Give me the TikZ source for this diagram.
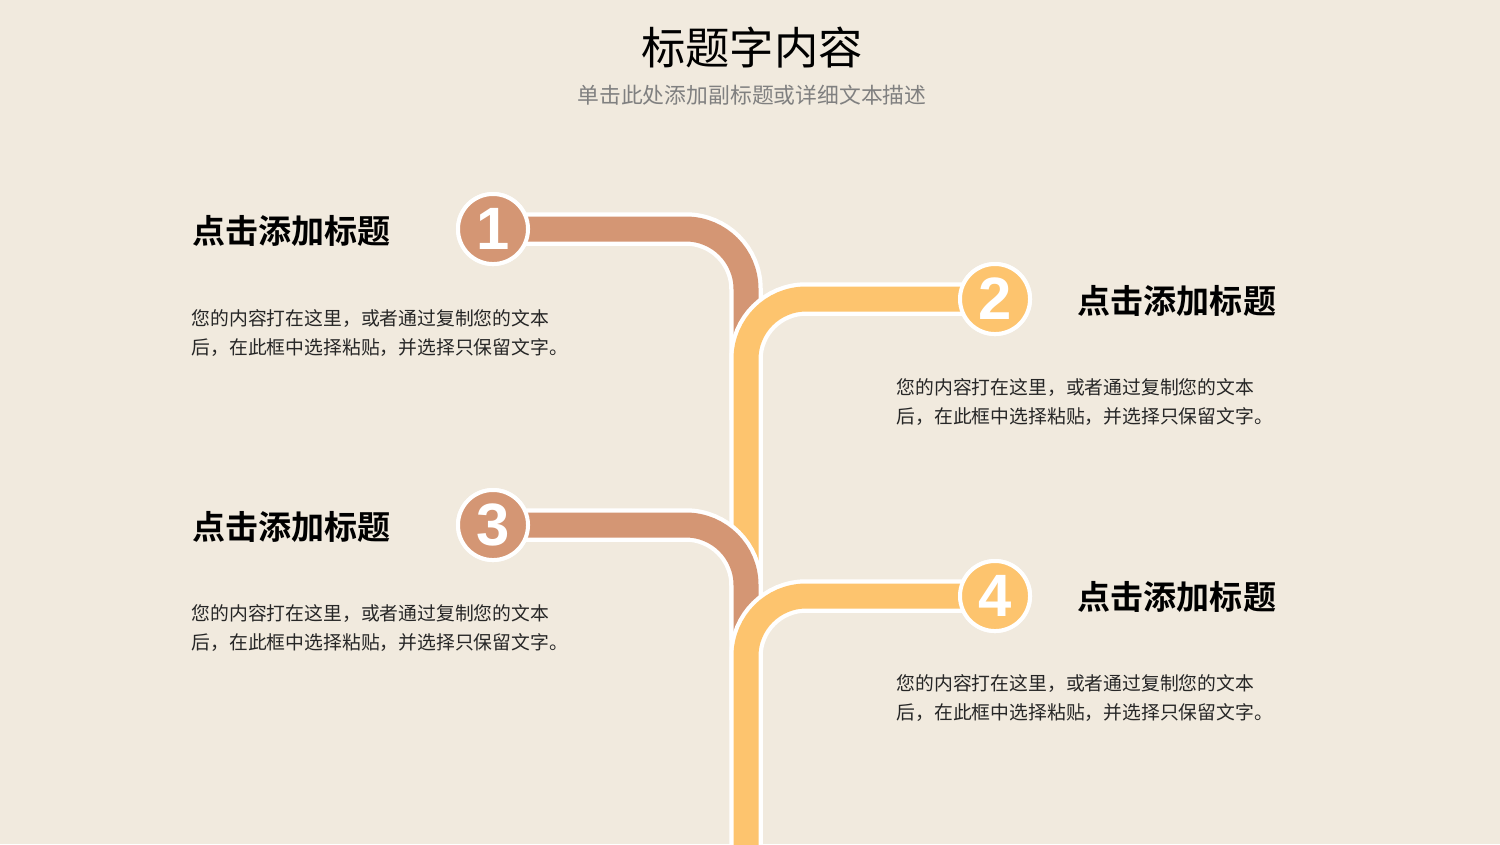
\documentclass[tikz,border=0pt]{standalone}
\usepackage{fontspec}
\newfontfamily\cjk[BoldFont={Noto Sans CJK SC Bold}]{Noto Sans CJK SC}
\newfontfamily\numfont{Liberation Sans}
\definecolor{bgc}{RGB}{241,234,222}
\definecolor{brn}{RGB}{212,150,116}
\definecolor{ylw}{RGB}{253,196,110}
\definecolor{subg}{RGB}{128,128,128}
\tikzset{
  bandout/.style={draw=white, line width=0.335cm, rounded corners=0.6cm},
  bandin/.style={line width=0.25cm, rounded corners=0.6cm},
  numc/.style={circle, draw=white, line width=0.04cm, minimum size=0.70cm, inner sep=0pt,
     text=white, font=\numfont\bfseries\fontsize{17}{18}\selectfont},
  headtxt/.style={anchor=west, inner sep=0pt, font=\cjk\bfseries\fontsize{9.4}{10}\selectfont},
  bodytxt/.style={anchor=west, inner sep=0pt, align=left, font=\cjk\fontsize{5.35}{8.25}\selectfont, text=black!85},
}
\begin{document}
\begin{tikzpicture}[x=0.01cm, y=-0.01cm]
\useasboundingbox (0,0) rectangle (1500,844);
\clip (0,0) rectangle (1500,844);
\fill[bgc] (0,0) rectangle (1500,844);

% title
\node[inner sep=0pt, font=\cjk\fontsize{12.6}{14}\selectfont] (title) at (752,48) {标题字内容};
\node[inner sep=0pt, font=\cjk\fontsize{6.2}{7}\selectfont, text=subg] (subtitle) at (752,95) {单击此处添加副标题或详细文本描述};

% coordinates
\coordinate (e1) at (746,420);
\coordinate (e2) at (746,640);
\coordinate (e3) at (746,720);
\coordinate (e4) at (746,900);

% branch 1
\node[numc, fill=brn] (c1) at (493,229) {1};
\draw[bandout] (c1.center) -| (e1);
\draw[bandin, draw=brn] (c1.center) -| (e1);
\node[numc, fill=brn] at (c1) {1};

% branch 2
\node[numc, fill=ylw] (c2) at (995,299) {2};
\draw[bandout] (c2.center) -| (e2);
\draw[bandin, draw=ylw] (c2.center) -| (e2);
\node[numc, fill=ylw] at (c2) {2};

% branch 3
\node[numc, fill=brn] (c3) at (493,525) {3};
\draw[bandout] (c3.center) -| (e3);
\draw[bandin, draw=brn] (c3.center) -| (e3);
\node[numc, fill=brn] at (c3) {3};

% branch 4
\node[numc, fill=ylw] (c4) at (995,596) {4};
\draw[bandout] (c4.center) -| (e4);
\draw[bandin, draw=ylw] (c4.center) -| (e4);
\node[numc, fill=ylw] at (c4) {4};

% texts
\node[headtxt] (h1) at (192,231) {点击添加标题};
\node[bodytxt] (b1) at (191,333) {您的内容打在这里，或者通过复制您的文本\\后，在此框中选择粘贴，并选择只保留文字。};
\node[headtxt] (h2) at (1077,301) {点击添加标题};
\node[bodytxt] (b2) at (896,402) {您的内容打在这里，或者通过复制您的文本\\后，在此框中选择粘贴，并选择只保留文字。};
\node[headtxt] (h3) at (192,527) {点击添加标题};
\node[bodytxt] (b3) at (191,628) {您的内容打在这里，或者通过复制您的文本\\后，在此框中选择粘贴，并选择只保留文字。};
\node[headtxt] (h4) at (1077,597) {点击添加标题};
\node[bodytxt] (b4) at (896,698) {您的内容打在这里，或者通过复制您的文本\\后，在此框中选择粘贴，并选择只保留文字。};
\end{tikzpicture}
\end{document}
